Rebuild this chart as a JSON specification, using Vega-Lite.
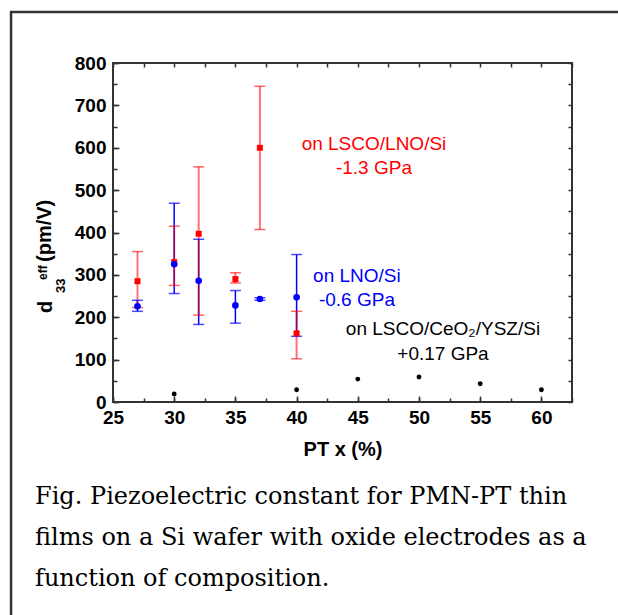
{
  "$schema": "https://vega.github.io/schema/vega-lite/v6.json",
  "width": 459,
  "height": 339,
  "autosize": {"type": "none"},
  "padding": {"left": 113, "top": 63, "right": 46, "bottom": 213},
  "background": "white",
  "config": {
    "view": {"stroke": "#333333", "strokeWidth": 2},
    "axis": {"domain": false, "grid": false, "labelFont": "Liberation Sans", "labelFontWeight": "bold", "labelFontSize": 19, "labelColor": "#000000", "titleFont": "Liberation Sans", "titleFontWeight": "bold", "titleFontSize": 20, "titleColor": "#000000", "tickColor": "#333333", "tickWidth": 1.5, "labelFlush": false, "labelOverlap": false},
    "text": {"font": "Liberation Sans"}
  },
  "datasets": {
    "lno": [
      {"pt": 27, "d33": 226, "lo": 214, "hi": 240},
      {"pt": 30, "d33": 325, "lo": 256, "hi": 469},
      {"pt": 32, "d33": 286, "lo": 183, "hi": 384},
      {"pt": 35, "d33": 228, "lo": 186, "hi": 263},
      {"pt": 37, "d33": 243, "lo": 240, "hi": 246},
      {"pt": 40, "d33": 247, "lo": 155, "hi": 348}
    ],
    "lsco": [
      {"pt": 27, "d33": 285, "lo": 223, "hi": 355},
      {"pt": 30, "d33": 330, "lo": 275, "hi": 415},
      {"pt": 32, "d33": 397, "lo": 205, "hi": 555},
      {"pt": 35, "d33": 290, "lo": 281, "hi": 305},
      {"pt": 37, "d33": 600, "lo": 407, "hi": 745},
      {"pt": 40, "d33": 162, "lo": 102, "hi": 214}
    ],
    "ceo": [
      {"pt": 30, "d33": 19},
      {"pt": 40, "d33": 29},
      {"pt": 45, "d33": 54},
      {"pt": 50, "d33": 59},
      {"pt": 55, "d33": 43},
      {"pt": 60, "d33": 29}
    ]
  },
  "resolve": {"axis": {"x": "independent", "y": "independent"}},
  "layer": [
    {
      "data": {"values": [{}]},
      "mark": {"type": "rect", "fillOpacity": 0, "stroke": "#333333", "strokeWidth": 2.5, "clip": false},
      "encoding": {
        "x": {"datum": 16.67, "type": "quantitative", "scale": {"domain": [25, 62.5], "nice": false, "zero": false}, "axis": null},
        "x2": {"datum": 68.87},
        "y": {"datum": 920.4, "type": "quantitative", "scale": {"domain": [0, 800], "nice": false, "zero": false}, "axis": null},
        "y2": {"datum": -585.3}
      }
    },
    {
      "data": {"name": "lno"},
      "mark": {"type": "rule", "color": "#0000ff", "strokeWidth": 1.5},
      "encoding": {
        "x": {"field": "pt", "type": "quantitative", "scale": {"domain": [25, 62.5], "nice": false, "zero": false},
              "axis": {"orient": "bottom", "values": [25, 30, 35, 40, 45, 50, 55, 60], "labels": false, "tickSize": -6, "title": null}},
        "y": {"field": "lo", "type": "quantitative", "scale": {"domain": [0, 800], "nice": false, "zero": false},
              "axis": {"orient": "left", "values": [0, 100, 200, 300, 400, 500, 600, 700, 800], "labels": false, "tickSize": -6, "title": null}},
        "y2": {"field": "hi"}
      }
    },
    {
      "data": {"name": "lsco"},
      "mark": {"type": "rule", "color": "#ff0000", "opacity": 0.55, "strokeWidth": 2},
      "encoding": {
        "x": {"field": "pt", "type": "quantitative", "scale": {"domain": [25, 62.5], "nice": false, "zero": false},
              "axis": {"orient": "bottom", "values": [25, 30, 35, 40, 45, 50, 55, 60], "ticks": false, "labelPadding": 6, "title": "PT x (%)", "titlePadding": 12}},
        "y": {"field": "lo", "type": "quantitative", "scale": {"domain": [0, 800], "nice": false, "zero": false},
              "axis": {"orient": "left", "values": [0, 100, 200, 300, 400, 500, 600, 700, 800], "ticks": false, "labelPadding": 7, "title": null}},
        "y2": {"field": "hi"}
      }
    },
    {
      "data": {"name": "lsco"},
      "transform": [{"fold": ["lo", "hi"], "as": ["end", "v"]}],
      "mark": {"type": "tick", "orient": "horizontal", "color": "#ff0000", "opacity": 0.6, "size": 11, "thickness": 1.5},
      "encoding": {
        "x": {"field": "pt", "type": "quantitative", "scale": {"domain": [25, 62.5], "nice": false, "zero": false},
              "axis": {"orient": "bottom", "values": [25, 27.5, 30, 32.5, 35, 37.5, 40, 42.5, 45, 47.5, 50, 52.5, 55, 57.5, 60, 62.5], "labels": false, "tickSize": -4, "title": null}},
        "y": {"field": "v", "type": "quantitative", "scale": {"domain": [0, 800], "nice": false, "zero": false},
              "axis": {"orient": "left", "values": [0, 50, 100, 150, 200, 250, 300, 350, 400, 450, 500, 550, 600, 650, 700, 750, 800], "labels": false, "tickSize": -4, "title": null}}
      }
    },
    {
      "data": {"name": "lno"},
      "transform": [{"fold": ["lo", "hi"], "as": ["end", "v"]}],
      "mark": {"type": "tick", "orient": "horizontal", "color": "#0000ff", "size": 11, "thickness": 1.5},
      "encoding": {
        "x": {"field": "pt", "type": "quantitative", "scale": {"domain": [25, 62.5], "nice": false, "zero": false},
              "axis": {"orient": "top", "values": [25, 27.5, 30, 32.5, 35, 37.5, 40, 42.5, 45, 47.5, 50, 52.5, 55, 57.5, 60, 62.5], "labels": false, "tickSize": -4, "title": null}},
        "y": {"field": "v", "type": "quantitative", "scale": {"domain": [0, 800], "nice": false, "zero": false},
              "axis": {"orient": "right", "values": [0, 50, 100, 150, 200, 250, 300, 350, 400, 450, 500, 550, 600, 650, 700, 750, 800], "labels": false, "tickSize": -4, "title": null}}
      }
    },
    {
      "data": {"name": "lsco"},
      "mark": {"type": "square", "color": "#ff0000", "size": 36, "opacity": 1},
      "encoding": {
        "x": {"field": "pt", "type": "quantitative", "scale": {"domain": [25, 62.5], "nice": false, "zero": false}, "axis": null},
        "y": {"field": "d33", "type": "quantitative", "scale": {"domain": [0, 800], "nice": false, "zero": false}, "axis": null}
      }
    },
    {
      "data": {"name": "lno"},
      "mark": {"type": "circle", "color": "#0000ff", "size": 44, "opacity": 1},
      "encoding": {
        "x": {"field": "pt", "type": "quantitative", "scale": {"domain": [25, 62.5], "nice": false, "zero": false}, "axis": null},
        "y": {"field": "d33", "type": "quantitative", "scale": {"domain": [0, 800], "nice": false, "zero": false}, "axis": null}
      }
    },
    {
      "data": {"name": "ceo"},
      "mark": {"type": "circle", "color": "#000000", "size": 24, "opacity": 1},
      "encoding": {
        "x": {"field": "pt", "type": "quantitative", "scale": {"domain": [25, 62.5], "nice": false, "zero": false}, "axis": null},
        "y": {"field": "d33", "type": "quantitative", "scale": {"domain": [0, 800], "nice": false, "zero": false}, "axis": null}
      }
    },
    {
      "data": {"values": [{}]},
      "mark": {"type": "text", "text": ["on LSCO/LNO/Si", "-1.3 GPa"], "color": "#ff0000", "fontSize": 19, "align": "center", "baseline": "alphabetic", "lineHeight": 24},
      "encoding": {
        "x": {"datum": 46.32, "type": "quantitative", "scale": {"domain": [25, 62.5], "nice": false, "zero": false}, "axis": null},
        "y": {"datum": 594.7, "type": "quantitative", "scale": {"domain": [0, 800], "nice": false, "zero": false}, "axis": null}
      }
    },
    {
      "data": {"values": [{}]},
      "mark": {"type": "text", "text": ["on LNO/Si", "-0.6 GPa"], "color": "#0000ff", "fontSize": 19, "align": "center", "baseline": "alphabetic", "lineHeight": 24},
      "encoding": {
        "x": {"datum": 44.93, "type": "quantitative", "scale": {"domain": [25, 62.5], "nice": false, "zero": false}, "axis": null},
        "y": {"datum": 283.9, "type": "quantitative", "scale": {"domain": [0, 800], "nice": false, "zero": false}, "axis": null}
      }
    },
    {
      "data": {"values": [{}]},
      "mark": {"type": "text", "text": ["on LSCO/CeO₂/YSZ/Si", "+0.17 GPa"], "color": "#000000", "fontSize": 19, "align": "center", "baseline": "alphabetic", "lineHeight": 25},
      "encoding": {
        "x": {"datum": 51.96, "type": "quantitative", "scale": {"domain": [25, 62.5], "nice": false, "zero": false}, "axis": null},
        "y": {"datum": 158.1, "type": "quantitative", "scale": {"domain": [0, 800], "nice": false, "zero": false}, "axis": null}
      }
    },
    {
      "data": {"values": [{}]},
      "mark": {"type": "text", "text": "d", "angle": 270, "color": "#000000", "fontSize": 20, "fontWeight": "bold", "align": "left", "baseline": "alphabetic"},
      "encoding": {
        "x": {"datum": 20.02, "type": "quantitative", "scale": {"domain": [25, 62.5], "nice": false, "zero": false}, "axis": null},
        "y": {"datum": 210.0, "type": "quantitative", "scale": {"domain": [0, 800], "nice": false, "zero": false}, "axis": null}
      }
    },
    {
      "data": {"values": [{}]},
      "mark": {"type": "text", "text": "33", "angle": 270, "color": "#000000", "fontSize": 13, "fontWeight": "bold", "align": "left", "baseline": "alphabetic"},
      "encoding": {
        "x": {"datum": 21.08, "type": "quantitative", "scale": {"domain": [25, 62.5], "nice": false, "zero": false}, "axis": null},
        "y": {"datum": 257.2, "type": "quantitative", "scale": {"domain": [0, 800], "nice": false, "zero": false}, "axis": null}
      }
    },
    {
      "data": {"values": [{}]},
      "mark": {"type": "text", "text": "eff", "angle": 270, "color": "#000000", "fontSize": 12, "fontWeight": "bold", "align": "left", "baseline": "alphabetic"},
      "encoding": {
        "x": {"datum": 19.61, "type": "quantitative", "scale": {"domain": [25, 62.5], "nice": false, "zero": false}, "axis": null},
        "y": {"datum": 287.9, "type": "quantitative", "scale": {"domain": [0, 800], "nice": false, "zero": false}, "axis": null}
      }
    },
    {
      "data": {"values": [{}]},
      "mark": {"type": "text", "text": "(pm/V)", "angle": 270, "color": "#000000", "fontSize": 20, "fontWeight": "bold", "align": "left", "baseline": "alphabetic"},
      "encoding": {
        "x": {"datum": 19.93, "type": "quantitative", "scale": {"domain": [25, 62.5], "nice": false, "zero": false}, "axis": null},
        "y": {"datum": 330.4, "type": "quantitative", "scale": {"domain": [0, 800], "nice": false, "zero": false}, "axis": null}
      }
    },
    {
      "data": {"values": [{}]},
      "mark": {"type": "text", "text": ["Fig. Piezoelectric constant for PMN-PT thin", "films on a Si wafer with oxide electrodes as a", "function of composition."], "font": "DejaVu Serif", "color": "#000000", "fontSize": 24, "align": "left", "baseline": "alphabetic", "lineHeight": 41},
      "encoding": {
        "x": {"datum": 18.63, "type": "quantitative", "scale": {"domain": [25, 62.5], "nice": false, "zero": false}, "axis": null},
        "y": {"datum": -240.7, "type": "quantitative", "scale": {"domain": [0, 800], "nice": false, "zero": false}, "axis": null}
      }
    }
  ]
}
